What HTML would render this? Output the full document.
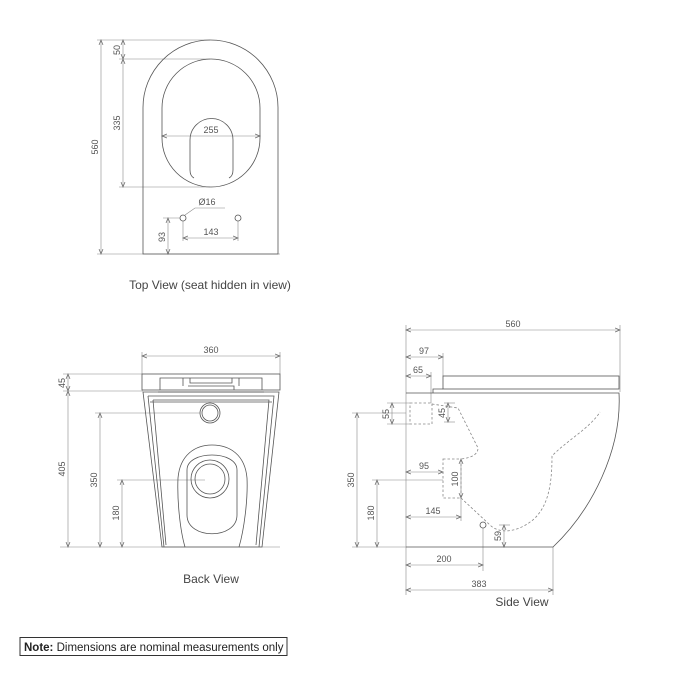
<!DOCTYPE html>
<html><head><meta charset="utf-8"><style>
html,body{margin:0;padding:0;background:#fff;}
svg{display:block;font-family:"Liberation Sans",sans-serif;}
.o{fill:none;stroke:#555;stroke-width:0.8}
.d{fill:none;stroke:#888;stroke-width:0.6}
.ds{fill:none;stroke:#888;stroke-width:0.8;stroke-dasharray:2.5 2}
text{fill:#555;font-size:9px}
.t{font-size:12px;fill:#444}
</style></head><body>
<svg width="675" height="675" viewBox="0 0 675 675" xmlns="http://www.w3.org/2000/svg">
<defs>
<marker id="a" markerWidth="6" markerHeight="6" refX="5" refY="3" orient="auto-start-reverse" markerUnits="userSpaceOnUse"><path d="M0,1 L5,3 L0,5" fill="none" stroke="#666" stroke-width="0.7"/></marker>
</defs>
<g class="d" marker-start="url(#a)" marker-end="url(#a)">
<!-- top view dims -->
<line x1="101" y1="40" x2="101" y2="254"/>
<line x1="123" y1="40" x2="123" y2="59"/>
<line x1="123" y1="59" x2="123" y2="187"/>
<line x1="162" y1="136" x2="260" y2="136"/>
<line x1="183" y1="238" x2="238" y2="238"/>
<line x1="168" y1="218" x2="168" y2="254"/>
<!-- back -->
<line x1="142" y1="356" x2="280" y2="356"/>
<line x1="68" y1="374" x2="68" y2="391"/>
<line x1="68" y1="391" x2="68" y2="547"/>
<line x1="100" y1="413" x2="100" y2="547"/>
<line x1="122" y1="480" x2="122" y2="547"/>
<!-- side -->
<line x1="406" y1="330" x2="620" y2="330"/>
<line x1="406" y1="357" x2="443" y2="357"/>
<line x1="406" y1="376" x2="431" y2="376"/>
<line x1="392" y1="403" x2="392" y2="424"/>
<line x1="448" y1="403" x2="448" y2="422"/>
<line x1="406" y1="472" x2="443" y2="472"/>
<line x1="461" y1="459" x2="461" y2="498"/>
<line x1="406" y1="517" x2="461" y2="517"/>
<line x1="504" y1="525" x2="504" y2="547"/>
<line x1="357" y1="413" x2="357" y2="547"/>
<line x1="377" y1="480" x2="377" y2="547"/>
<line x1="406" y1="565" x2="483" y2="565"/>
<line x1="406" y1="590" x2="553" y2="590"/>
</g>
<g class="d">
<line x1="97" y1="40" x2="210" y2="40"/><line x1="97" y1="254" x2="280" y2="254"/>
<line x1="119" y1="59" x2="210" y2="59"/><line x1="119" y1="187" x2="210" y2="187"/>
<line x1="163" y1="218" x2="180" y2="218"/>
<line x1="183" y1="221" x2="183" y2="241"/><line x1="238" y1="221" x2="238" y2="241"/>
<polyline points="185,215 195,208 225,208"/>
<line x1="142" y1="352" x2="142" y2="374"/><line x1="280" y1="352" x2="280" y2="374"/>
<line x1="63" y1="374" x2="142" y2="374"/><line x1="63" y1="391" x2="143" y2="391"/>
<line x1="95" y1="413" x2="200" y2="413"/><line x1="117" y1="480" x2="205" y2="480"/>
<line x1="60" y1="547" x2="280" y2="547"/>
<line x1="406" y1="325" x2="406" y2="595"/><line x1="620" y1="325" x2="620" y2="392"/>
<line x1="443" y1="353" x2="443" y2="376"/><line x1="431" y1="372" x2="431" y2="403"/>
<line x1="387" y1="403" x2="410" y2="403"/><line x1="387" y1="424" x2="410" y2="424"/>
<line x1="444" y1="403" x2="455" y2="403"/><line x1="444" y1="422" x2="455" y2="422"/>
<line x1="352" y1="413" x2="406" y2="413"/><line x1="372" y1="480" x2="443" y2="480"/>
<line x1="352" y1="547" x2="406" y2="547"/>
<line x1="461" y1="498" x2="461" y2="521"/>
<line x1="483" y1="528" x2="483" y2="571"/><line x1="553" y1="547" x2="553" y2="595"/>
<line x1="499" y1="525" x2="510" y2="525"/>
</g>
<!-- top view -->
<path class="o" d="M143 254 L143 107.5 A67.5 67.5 0 0 1 278 107.5 L278 254 Z"/>
<rect class="o" x="162" y="59" width="98" height="128" rx="49" ry="49"/>
<path class="o" d="M194 178 Q190 176 190 170 L190 140 A21.5 21.5 0 0 1 233 140 L233 170 Q233 176 229 178"/>
<circle class="o" cx="183" cy="218" r="3"/><circle class="o" cx="238" cy="218" r="3"/>
<!-- back view -->
<rect class="o" x="142" y="374" width="138" height="16"/>
<path class="o" d="M160 390 V378 H262 V390 M183 378 V386 M239 378 V386 M190 378 V383 H232 V378 M158 392 H264 M188 386 H234 V390"/>
<path class="o" d="M143 392 L279 392 L262 547 L162 547 Z"/>
<path class="o" d="M148 396 L274 396 L259 547 M164 547 L148 396"/>
<path class="o" d="M153 400 L269 400 L256 545 M166 545 L153 400"/>
<line class="o" x1="150" y1="402" x2="272" y2="402"/>
<circle class="o" cx="210" cy="413" r="10"/><circle class="o" cx="210" cy="413" r="8"/>
<path class="o" d="M185 547 C180 530 177 500 178 478 C180 455 195 445 212 445 C230 445 245 455 247 478 C248 500 244 530 239 547"/>
<path class="o" d="M187 470 C187 450 237 450 237 470 L237 515 C237 540 187 540 187 515 Z"/>
<circle class="o" cx="210" cy="479" r="19"/><circle class="o" cx="210" cy="479" r="15"/>
<!-- side view -->
<rect class="o" x="443" y="376" width="176" height="13"/>
<path class="o" d="M433 393 V389 H443"/>
<path class="o" d="M406 393 L619 393 C622 450 592 510 553 547 L406 547"/>
<rect class="ds" x="410" y="403" width="22" height="21"/>
<path class="ds" d="M432 404 L458 408 L478 448 Q478 457 461 459"/>
<rect class="ds" x="443" y="459" width="18" height="39"/>
<path class="ds" d="M461 498 L490 525 C500 535 520 532 535 518 C548 505 552 485 552 456 C565 442 590 428 600 412"/>
<circle class="o" cx="483" cy="525" r="3"/>
<!-- labels -->
<text transform="translate(98,147) rotate(-90)" text-anchor="middle">560</text>
<text transform="translate(120,50) rotate(-90)" text-anchor="middle">50</text>
<text transform="translate(120,123) rotate(-90)" text-anchor="middle">335</text>
<text x="211" y="133" text-anchor="middle">255</text>
<text x="207" y="205" text-anchor="middle">Ø16</text>
<text x="211" y="235" text-anchor="middle">143</text>
<text transform="translate(165,237) rotate(-90)" text-anchor="middle">93</text>
<text class="t" x="210" y="289" text-anchor="middle">Top View (seat hidden in view)</text>
<text x="211" y="353" text-anchor="middle">360</text>
<text transform="translate(65,383) rotate(-90)" text-anchor="middle">45</text>
<text transform="translate(65,469) rotate(-90)" text-anchor="middle">405</text>
<text transform="translate(97,480) rotate(-90)" text-anchor="middle">350</text>
<text transform="translate(119,513) rotate(-90)" text-anchor="middle">180</text>
<text class="t" x="211" y="583" text-anchor="middle">Back View</text>
<text x="513" y="327" text-anchor="middle">560</text>
<text x="424" y="354" text-anchor="middle">97</text>
<text x="418" y="373" text-anchor="middle">65</text>
<text transform="translate(389,414) rotate(-90)" text-anchor="middle">55</text>
<text transform="translate(445,413) rotate(-90)" text-anchor="middle">45</text>
<text x="424" y="469" text-anchor="middle">95</text>
<text transform="translate(458,479) rotate(-90)" text-anchor="middle">100</text>
<text x="433" y="514" text-anchor="middle">145</text>
<text transform="translate(501,536) rotate(-90)" text-anchor="middle">59</text>
<text transform="translate(354,480) rotate(-90)" text-anchor="middle">350</text>
<text transform="translate(374,513) rotate(-90)" text-anchor="middle">180</text>
<text x="444" y="562" text-anchor="middle">200</text>
<text x="479" y="587" text-anchor="middle">383</text>
<text class="t" x="522" y="606" text-anchor="middle">Side View</text>
<rect x="20" y="637.5" width="267" height="18" fill="none" stroke="#333" stroke-width="1"/>
<text x="24" y="651" style="font-size:11.5px;fill:#222"><tspan font-weight="bold">Note:</tspan> Dimensions are nominal measurements only</text>
</svg>
</body></html>
